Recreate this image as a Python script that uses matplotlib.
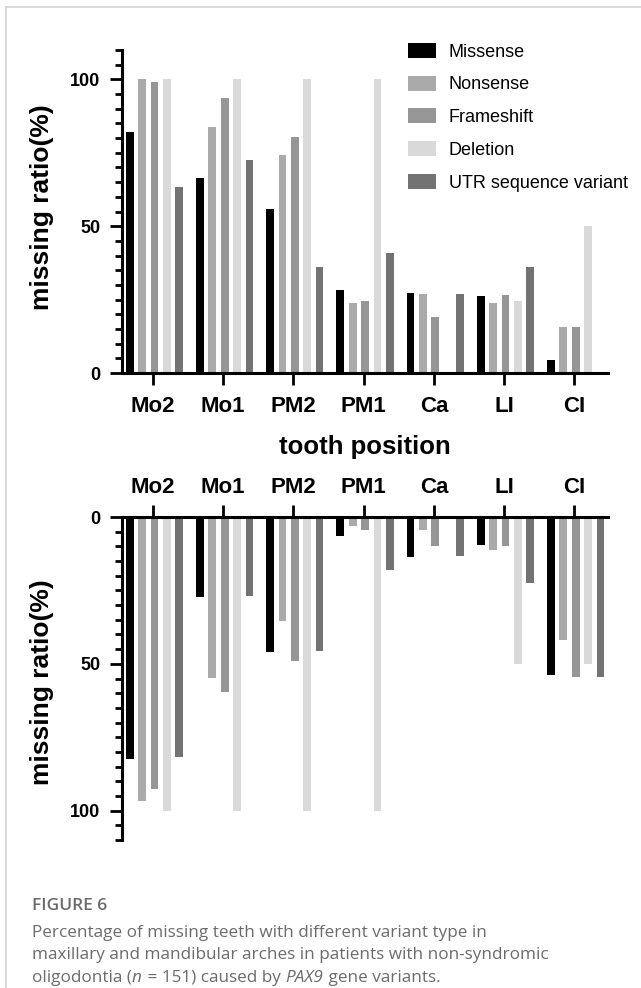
import matplotlib.pyplot as plt
import numpy as np
from matplotlib.ticker import MultipleLocator
from matplotlib.lines import Line2D

# tooth positions and variant types
teeth = ['Mo2', 'Mo1', 'PM2', 'PM1', 'Ca', 'LI', 'CI']
variants = ['Missense', 'Nonsense', 'Frameshift', 'Deletion', 'UTR sequence variant']
colors = ['#000000', '#aaaaaa', '#969696', '#d9d9d9', '#737373']

# maxillary arch (top panel), missing ratio in %
max_missense = [82.2, 66.5, 55.7, 28.1, 27.2, 26.3, 4.4]
max_nonsense = [100, 83.8, 74.1, 23.9, 27.0, 23.9, 15.7]
max_frameshift = [99.1, 93.8, 80.3, 24.5, 19.2, 26.5, 15.7]
max_deletion = [100, 100, 100, 100, 0, 24.5, 50]
max_utr = [63.3, 72.6, 36.1, 40.7, 26.9, 36.1, 0]

# mandibular arch (bottom panel), missing ratio in %
man_missense = [82.3, 27.2, 46.0, 6.6, 13.5, 9.5, 53.8]
man_nonsense = [96.8, 54.8, 35.4, 3.0, 4.5, 11.1, 41.9]
man_frameshift = [92.8, 59.7, 49.0, 4.3, 9.8, 9.8, 54.5]
man_deletion = [100, 100, 100, 100, 0, 50, 50]
man_utr = [81.7, 27.0, 45.5, 17.9, 13.4, 22.5, 54.5]

maxillary = [max_missense, max_nonsense, max_frameshift, max_deletion, max_utr]
mandibular = [man_missense, man_nonsense, man_frameshift, man_deletion, man_utr]

W, H = 641, 988
BOLD = 'Liberation Sans'


def px_rect(x0, y0, x1, y1):
    return [x0 / W, 1 - y1 / H, (x1 - x0) / W, (y1 - y0) / H]


fig = plt.figure(figsize=(W / 100, H / 100), dpi=100)
ax1 = fig.add_axes(px_rect(122, 50, 608, 373))
ax2 = fig.add_axes(px_rect(122, 517, 608, 840))

x = np.arange(len(teeth))
step = 0.176
width = 0.11

for ax, groups in [(ax1, maxillary), (ax2, mandibular)]:
    for k, vals in enumerate(groups):
        ax.bar(x + (k - 2) * step + 0.02, vals, width=width, color=colors[k],
               label=variants[k], zorder=2)
    ax.set_xlim(-0.442, 6.48)
    ax.set_yticks([0, 50, 100])
    ax.yaxis.set_minor_locator(MultipleLocator(5))
    ax.set_xticks(x)
    ax.set_xticklabels(teeth, fontsize=16, fontweight='bold', family=BOLD)
    for lab in ax.get_yticklabels():
        lab.set_fontsize(13)
        lab.set_fontweight('bold')
        lab.set_family(BOLD)
    ax.spines['right'].set_visible(False)
    for s in ax.spines.values():
        s.set_linewidth(2.2)
    ax.tick_params(axis='y', which='major', length=9, width=2, pad=6.5)
    ax.tick_params(axis='y', which='minor', length=5, width=2)
    ax.tick_params(axis='x', which='major', length=8.5, width=2)

# top panel
ax1.set_ylim(0, 110)
ax1.spines['top'].set_visible(False)
ax1.tick_params(axis='x', pad=8)

# bottom panel, bars hang down from the top axis
ax2.set_ylim(110, 0)
ax2.spines['bottom'].set_visible(False)
ax2.xaxis.tick_top()
ax2.tick_params(axis='x', top=True, bottom=False, labeltop=True,
                labelbottom=False, pad=5.5)

fig.text(42 / W, 1 - 207 / H, 'missing ratio(%)', rotation=90, ha='center',
         va='center', fontsize=19, fontweight='bold', family=BOLD)
fig.text(42 / W, 1 - 682 / H, 'missing ratio(%)', rotation=90, ha='center',
         va='center', fontsize=19, fontweight='bold', family=BOLD)
fig.text(365 / W, 1 - 447 / H, 'tooth position', ha='center', va='center',
         fontsize=18.5, fontweight='bold', family=BOLD)

ax1.legend(loc='upper left', bbox_to_anchor=(408 / W, 1 - 43 / H),
           bbox_transform=fig.transFigure, frameon=False, borderpad=0,
           borderaxespad=0, handlelength=1.55, handleheight=0.9,
           handletextpad=0.72, labelspacing=0.83,
           prop={'family': 'Liberation Sans', 'size': 13})

# light frame of the figure panel
frame_col = '#d4d4d4'
fig.add_artist(Line2D([6 / W, 6 / W], [0, 1 - 7 / H], color=frame_col,
                      lw=1.2, transform=fig.transFigure))
fig.add_artist(Line2D([6 / W, 1], [1 - 7 / H, 1 - 7 / H], color=frame_col,
                      lw=1.2, transform=fig.transFigure))

# caption
cap_col = '#6b6b6b'
cap = dict(color=cap_col, fontsize=12.3, family='Open Sans')
fig.text(32 / W, 1 - 906 / H, 'FIGURE 6', va='center', color=cap_col,
         fontsize=12.5, fontweight='semibold', family='Open Sans')
fig.text(32 / W, 1 - 937 / H,
         'Percentage of missing teeth with different variant type in',
         va='baseline', **cap)
fig.text(32 / W, 1 - 959 / H,
         'maxillary and mandibular arches in patients with non-syndromic',
         va='baseline', **cap)

# third line has italic pieces, placed one after another
pieces = [('oligodontia (', 'normal'), ('n', 'italic'), (' = 151) caused by ', 'normal'),
          ('PAX9', 'italic'), (' gene variants.', 'normal')]
renderer = fig.canvas.get_renderer()
xpos = 32
for txt, st in pieces:
    t = fig.text(xpos / W, 1 - 982 / H, txt, va='baseline', style=st, **cap)
    xpos = t.get_window_extent(renderer).x1 + (1 if st == 'italic' else 0)

fig.savefig('out.png', dpi=100)
